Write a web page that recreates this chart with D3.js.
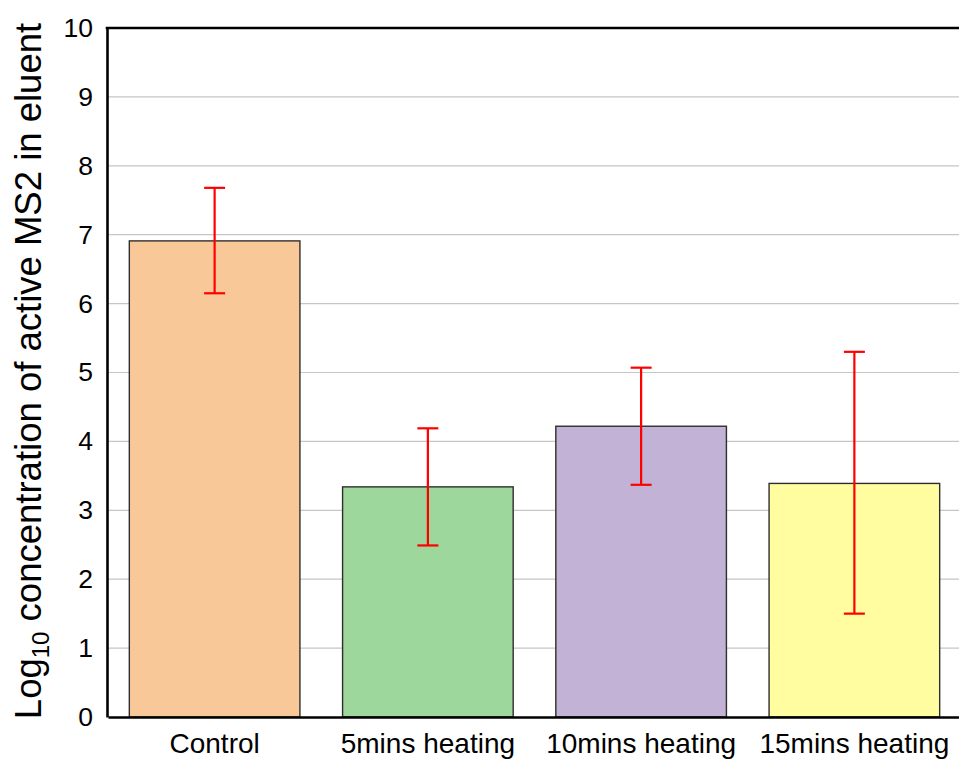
<!DOCTYPE html>
<html>
<head>
<meta charset="utf-8">
<script src="https://cdn.jsdelivr.net/npm/d3@7"></script>
<style>
  html, body { margin: 0; padding: 0; background: #fff; }
  svg { display: block; font-family: "Liberation Sans", Arial, sans-serif; }
</style>
</head>
<body>
<svg id="chart" width="959" height="762"></svg>
<script>
// Treatment groups and log10 titres of active MS2 in the eluent
const categories = ["Control", "5mins heating", "10mins heating", "15mins heating"];
const means = [6.91, 3.34, 4.22, 3.39];
const errLow = [6.15, 2.49, 3.37, 1.50];
const errHigh = [7.68, 4.19, 5.07, 5.30];
const barColors = ["#f9c899", "#9ed79b", "#c2b2d6", "#fffd9f"];
const yTicks = [0, 1, 2, 3, 4, 5, 6, 7, 8, 9, 10];

const svg = d3.select("#chart");
const plotLeft = 107, plotRight = 960, plotTop = 28, plotBottom = 717;

const x = d3.scaleBand().domain(categories).range([plotLeft, plotRight])
  .paddingInner(0.2).paddingOuter(0.1);
const y = d3.scaleLinear().domain([0, 10]).range([plotBottom, plotTop]);

// horizontal gridlines
svg.append("g").selectAll("line").data(yTicks.filter(t => t > 0 && t < 10))
  .join("line")
  .attr("x1", plotLeft).attr("x2", plotRight)
  .attr("y1", d => y(d)).attr("y2", d => y(d))
  .attr("stroke", "#c6c6c6").attr("stroke-width", 1.2);

// bars
svg.append("g").selectAll("rect").data(categories)
  .join("rect")
  .attr("x", d => x(d) + 1)
  .attr("width", x.bandwidth())
  .attr("y", (d, i) => y(means[i]))
  .attr("height", (d, i) => y(0) - y(means[i]))
  .attr("fill", (d, i) => barColors[i])
  .attr("stroke", "#2e2e2e").attr("stroke-width", 1.4);

// error bars
const eb = svg.append("g").attr("stroke", "#ff0000").attr("stroke-width", 2.2);
categories.forEach((c, i) => {
  const cx = x(c) + 1 + x.bandwidth() / 2;
  eb.append("line").attr("x1", cx).attr("x2", cx)
    .attr("y1", y(errLow[i])).attr("y2", y(errHigh[i]));
  [errLow[i], errHigh[i]].forEach(v => {
    eb.append("line").attr("x1", cx - 10.5).attr("x2", cx + 10.5)
      .attr("y1", y(v)).attr("y2", y(v));
  });
});

// y axis
const yAxis = svg.append("g").attr("transform", `translate(${plotLeft},0)`)
  .call(d3.axisLeft(y).tickValues(yTicks).tickSize(0).tickPadding(14).tickFormat(d3.format("d")));
yAxis.select(".domain").attr("stroke", "#000").attr("stroke-width", 2.6);
yAxis.selectAll("text").attr("font-size", 26.5).attr("fill", "#000")
  .attr("font-family", "Liberation Sans, Arial, sans-serif");

// x axis
const xAxis = svg.append("g").attr("transform", `translate(1,${plotBottom})`)
  .call(d3.axisBottom(x).tickSize(0).tickPadding(16));
xAxis.select(".domain").attr("stroke", "#000").attr("stroke-width", 2.6);
xAxis.selectAll("text").attr("font-size", 28).attr("fill", "#000")
  .attr("font-family", "Liberation Sans, Arial, sans-serif");

// top frame line
svg.append("line").attr("x1", plotLeft - 1.3).attr("x2", plotRight)
  .attr("y1", plotTop).attr("y2", plotTop)
  .attr("stroke", "#000").attr("stroke-width", 2.6);

// y axis title with subscript
const title = svg.append("text")
  .attr("transform", `translate(41,${(plotTop + plotBottom) / 2 - 1.5}) rotate(-90)`)
  .attr("text-anchor", "middle")
  .attr("font-size", 36.5).attr("fill", "#000");
title.append("tspan").text("Log");
title.append("tspan").attr("font-size", 24).attr("dy", 8).text("10");
title.append("tspan").attr("dy", -8).text(" concentration of active MS2 in eluent");
</script>
</body>
</html>
